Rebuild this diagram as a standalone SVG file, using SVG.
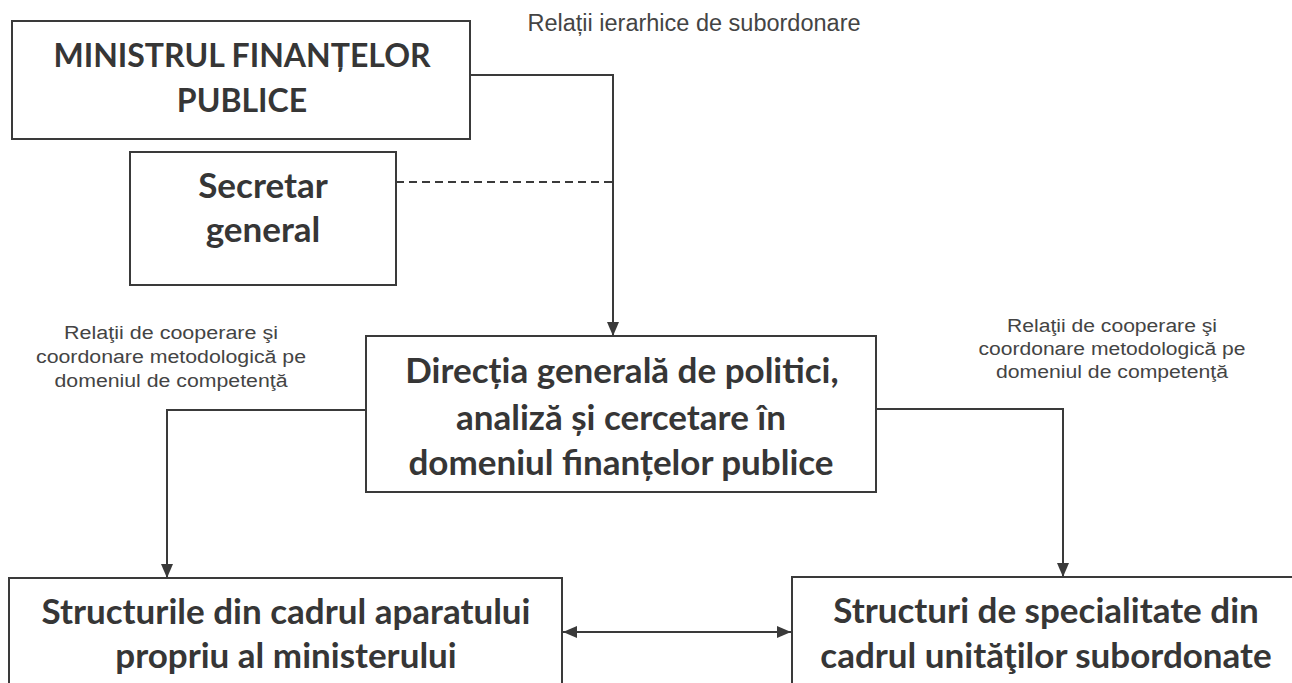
<svg xmlns="http://www.w3.org/2000/svg" width="1292" height="683" viewBox="0 0 1292 683">
<defs>
<style>
.box{fill:#fff;stroke:#3a3a3a;stroke-width:2}
.t{font-family:Lato,"Open Sans",sans-serif;font-weight:bold;font-size:35px;fill:#363636;text-anchor:middle}
.lbl{font-family:"Liberation Sans",Arial,sans-serif;font-size:18px;fill:#444;text-anchor:middle}
.ln{fill:none;stroke:#3a3a3a;stroke-width:2}
</style>
<marker id="ah" markerUnits="userSpaceOnUse" markerWidth="16" markerHeight="16" viewBox="0 0 16 16" refX="15" refY="8" orient="auto-start-reverse">
<path d="M1,2 L15,8 L1,14 Z" fill="#3a3a3a"/>
</marker>
</defs>
<g id="connectors">
<path class="ln" d="M470,75 H613 V336" marker-end="url(#ah)"/>
<path class="ln" d="M396,182 H613" stroke-dasharray="8 5"/>
<path class="ln" d="M366,410 H167 V578" marker-end="url(#ah)"/>
<path class="ln" d="M876,409 H1063 V577" marker-end="url(#ah)"/>
<path class="ln" d="M563,632 H791" marker-start="url(#ah)" marker-end="url(#ah)"/>
</g>
<g id="n-ministru">
<rect class="box" x="12" y="21" width="458" height="118"/>
<text class="t" x="242" y="67" style="font-size:32px">MINISTRUL FINANȚELOR</text>
<text class="t" x="242" y="112" style="font-size:32px">PUBLICE</text>
</g>
<g id="n-secretar">
<rect class="box" x="130" y="152" width="266" height="133"/>
<text class="t" x="263" y="198">Secretar</text>
<text class="t" x="263" y="242">general</text>
</g>
<g id="n-directia">
<rect class="box" x="366" y="336" width="510" height="156"/>
<text class="t" x="622" y="383">Direcția generală de politici,</text>
<text class="t" x="621" y="430">analiză și cercetare în</text>
<text class="t" x="621" y="475">domeniul finanțelor publice</text>
</g>
<g id="n-structurile">
<rect class="box" x="9" y="578" width="553" height="130"/>
<text class="t" x="286" y="624">Structurile din cadrul aparatului</text>
<text class="t" x="286" y="668">propriu al ministerului</text>
</g>
<g id="n-specialitate">
<rect class="box" x="792" y="577" width="530" height="130"/>
<text class="t" x="1046" y="623">Structuri de specialitate din</text>
<text class="t" x="1046" y="668">cadrul unităţilor subordonate</text>
</g>
<g id="labels">
<text class="lbl" x="694" y="31" style="font-size:23.5px">Relații ierarhice de subordonare</text>
<text class="lbl" x="171" y="339" textLength="214" lengthAdjust="spacingAndGlyphs">Relaţii de cooperare şi</text>
<text class="lbl" x="171" y="363" textLength="270" lengthAdjust="spacingAndGlyphs">coordonare metodologică pe</text>
<text class="lbl" x="171" y="387" textLength="233" lengthAdjust="spacingAndGlyphs">domeniul de competenţă</text>
<text class="lbl" x="1112" y="332" textLength="210" lengthAdjust="spacingAndGlyphs">Relaţii de cooperare şi</text>
<text class="lbl" x="1112" y="355" textLength="267" lengthAdjust="spacingAndGlyphs">coordonare metodologică pe</text>
<text class="lbl" x="1112" y="378" textLength="232" lengthAdjust="spacingAndGlyphs">domeniul de competenţă</text>
</g>
</svg>
